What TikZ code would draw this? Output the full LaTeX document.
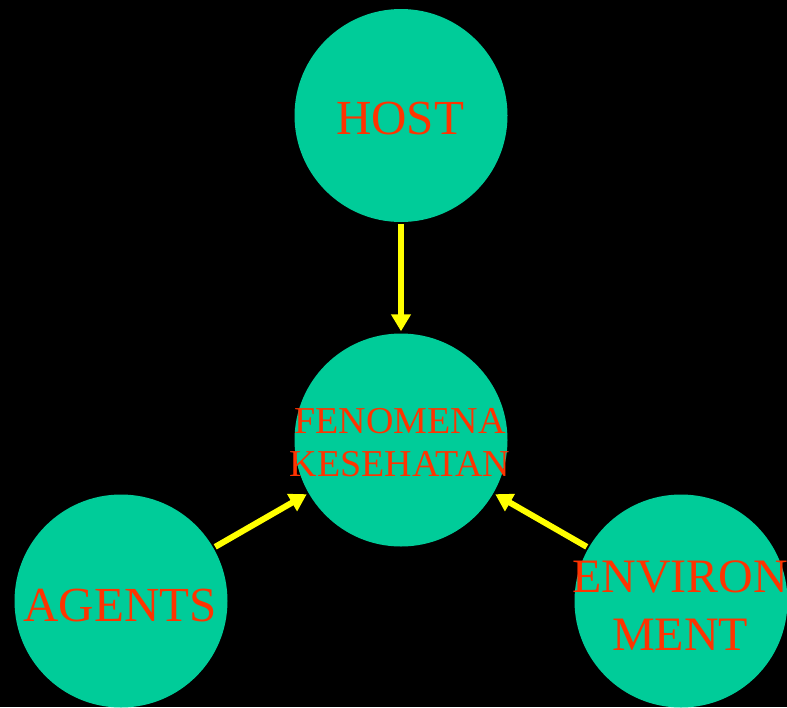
\documentclass[tikz,border=0pt]{standalone}
\usepackage{fontspec}
\setmainfont{Liberation Serif}
\usetikzlibrary{arrows.meta}
\definecolor{teal}{HTML}{00CC99}
\definecolor{txt}{HTML}{FF3300}
\definecolor{ylw}{HTML}{FFFF00}
\begin{document}
\begin{tikzpicture}[x=1pt,y=-1pt,
  ball/.style={circle,fill=teal,minimum size=213pt,inner sep=0pt},
  lbl/.style={text=txt,align=center,inner sep=0pt},
  conn/.style={draw=ylw,line width=6pt,-{Triangle[length=17pt,width=19pt]},shorten >=2pt,shorten <=2pt}]
\fill[black] (0,0) rectangle (787,707);
\useasboundingbox (0,0) rectangle (787,707);
\node[ball] (host) at (401,115.5) {};
\node[ball] (fen) at (401,440) {};
\node[ball] (ag) at (121,601) {};
\node[ball] (env) at (681,601) {};
\node[lbl,font=\fontsize{49}{58}\selectfont] (thost) at (400,118.5) {HOST};
\node[lbl,font=\fontsize{38}{43}\selectfont] (tfen) at (400,443) {FENOMENA\\KESEHATAN};
\node[lbl,font=\fontsize{49}{58}\selectfont] (tag) at (120,606) {AGENTS};
\node[lbl,font=\fontsize{48}{58}\selectfont] (tenv) at (680,606) {ENVIRON\\MENT};
\draw[conn] (host) -- (fen);
\draw[conn] (ag) -- (fen);
\draw[conn] (env) -- (fen);
\end{tikzpicture}
\end{document}
